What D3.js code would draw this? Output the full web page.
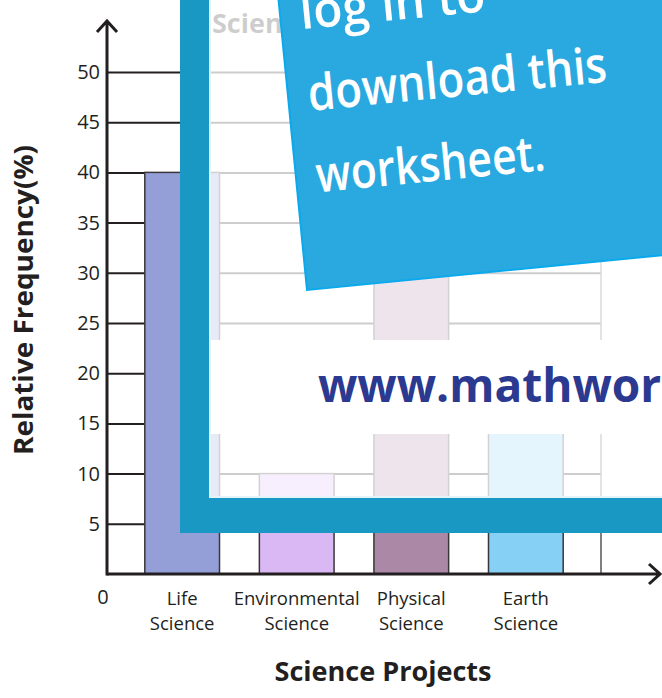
<!DOCTYPE html>
<html>
<head>
<meta charset="utf-8">
<script src="https://cdn.jsdelivr.net/npm/d3@7"></script>
<style>
  body { margin: 0; background: #fff; }
  text { font-family: "Open Sans", "Noto Sans", sans-serif; fill: #231f20; }
</style>
</head>
<body>
<div id="chart"></div>
<script>
// chart data
const categories = ["Life Science", "Environmental Science", "Physical Science", "Earth Science"];
const categoryLines = [["Life", "Science"], ["Environmental", "Science"], ["Physical", "Science"], ["Earth", "Science"]];
const frequencies = [40, 10, 30, 20];
const barColors = ["#949fd8", "#dab8f3", "#ab88a6", "#87d0f5"];
const yTicks = [5, 10, 15, 20, 25, 30, 35, 40, 45, 50];

const chartTitle = "Science Projects";
const xTitle = "Science Projects";
const yTitle = "Relative Frequency(%)";

var width = 662,
    height = 698;

// plot area edges
var plot = { left: 107, right: 601, bottom: 574, top: 72 };

var svg = d3.select("#chart")
    .append("svg")
    .attr("width", width)
    .attr("height", height);

var x = d3.scaleBand()
    .domain(categories)
    .range([plot.left, plot.right])
    .paddingInner(0.348)
    .paddingOuter(0.33);

var y = d3.scaleLinear()
    .domain([0, 50])
    .range([plot.bottom, plot.top]);

// gridlines
var grid = svg.append("g")
    .attr("transform", `translate(${plot.left},0)`)
    .call(d3.axisLeft(y).tickValues(yTicks).tickSize(-(plot.right - plot.left)).tickFormat(""));
grid.select(".domain").remove();
grid.selectAll("line").attr("stroke", "#231f20").attr("stroke-width", 2);

// right border of the grid
svg.append("line")
    .attr("x1", plot.right).attr("x2", plot.right)
    .attr("y1", y(50)).attr("y2", y(0))
    .attr("stroke", "#555").attr("stroke-width", 1.5);

// bars
svg.selectAll("rect.bar")
    .data(frequencies)
    .enter()
    .append("rect")
    .attr("class", "bar")
    .attr("x", (d, i) => x(categories[i]))
    .attr("y", d => y(d))
    .attr("width", x.bandwidth())
    .attr("height", d => y(0) - y(d))
    .attr("fill", (d, i) => barColors[i])
    .attr("stroke", "#3a3538")
    .attr("stroke-width", 1.5);

// y tick labels
var yAxis = svg.append("g")
    .attr("transform", `translate(${plot.left - 7},0)`)
    .call(d3.axisLeft(y).tickValues(yTicks).tickSize(0).tickPadding(0));
yAxis.select(".domain").remove();
yAxis.selectAll("text")
    .style("font-family", "'Open Sans', sans-serif")
    .style("font-size", "20px")
    .attr("fill", "#231f20");

svg.append("text")
    .attr("x", plot.left - 4)
    .attr("y", y(0) + 30)
    .attr("text-anchor", "middle")
    .style("font-size", "20px")
    .text("0");

// category labels
var catLabels = svg.append("g")
    .selectAll("text")
    .data(categories)
    .enter()
    .append("text")
    .attr("text-anchor", "middle")
    .attr("x", d => x(d) + x.bandwidth() / 2)
    .attr("y", plot.bottom + 31)
    .style("font-size", "18.5px");
catLabels.each(function (d, i) {
    d3.select(this).selectAll("tspan")
        .data(categoryLines[i])
        .enter()
        .append("tspan")
        .attr("x", x(d) + x.bandwidth() / 2)
        .attr("dy", (t, j) => j === 0 ? 0 : 25)
        .text(t => t);
});

// axes with arrows
svg.append("path")
    .attr("d", `M${plot.left},${plot.bottom + 1.5}V22M97,32L${plot.left},21L117,32`)
    .attr("fill", "none").attr("stroke", "#231f20").attr("stroke-width", 3);
svg.append("path")
    .attr("d", `M${plot.left},${plot.bottom}H659M649,564L660,${plot.bottom}L649,584`)
    .attr("fill", "none").attr("stroke", "#231f20").attr("stroke-width", 3);

// titles
svg.append("text")
    .attr("x", 383)
    .attr("y", 681)
    .attr("text-anchor", "middle")
    .attr("textLength", 217)
    .attr("lengthAdjust", "spacingAndGlyphs")
    .style("font-size", "26px")
    .style("font-weight", "bold")
    .text(xTitle);

svg.append("text")
    .attr("transform", "translate(33,300) rotate(-90)")
    .attr("text-anchor", "middle")
    .attr("textLength", 310)
    .attr("lengthAdjust", "spacingAndGlyphs")
    .style("font-size", "26px")
    .style("font-weight", "bold")
    .text(yTitle);

svg.append("text")
    .attr("x", 212)
    .attr("y", 33)
    .style("font-size", "27px")
    .style("font-weight", "bold")
    .text(chartTitle);

// WATERMARK OVERLAY ================================
svg.append("rect")
    .attr("x", 209).attr("y", 0)
    .attr("width", 453).attr("height", 498)
    .attr("fill", "#fff").attr("opacity", 0.78);

svg.append("rect")
    .attr("x", 209).attr("y", 340)
    .attr("width", 453).attr("height", 94)
    .attr("fill", "#fff");

svg.append("text")
    .attr("x", 318)
    .attr("y", 402)
    .style("font-size", "46px")
    .style("font-weight", "bold")
    .style("fill", "#2b3990")
    .text("www.mathworksheets4kids.com");

svg.append("path")
    .attr("d", "M210,0V497H662")
    .attr("fill", "none").attr("stroke", "#e4f3fa").attr("stroke-width", 2);

svg.append("path")
    .attr("d", "M180,0H209V498H662V533H180Z")
    .attr("fill", "#1a98c4");

// the tilted note
var note = svg.append("g")
    .attr("transform", "translate(307,290) rotate(-5.6)");
note.append("rect")
    .attr("x", 0).attr("y", -420)
    .attr("width", 520).attr("height", 420)
    .attr("fill", "#29a9e0")
    .attr("stroke", "#0aa9ec").attr("stroke-width", 2);

const noteLines = ["log in to", "download this", "worksheet."];
const noteWidths = [186, 300, 230];
note.selectAll("text.note")
    .data(noteLines)
    .enter()
    .append("text")
    .attr("class", "note")
    .attr("x", 20)
    .attr("y", (d, i) => -260 + i * 82)
    .attr("textLength", (d, i) => noteWidths[i])
    .attr("lengthAdjust", "spacingAndGlyphs")
    .style("font-size", "50px")
    .style("font-weight", "600")
    .style("fill", "#fff")
    .text(d => d);
</script>
</body>
</html>
